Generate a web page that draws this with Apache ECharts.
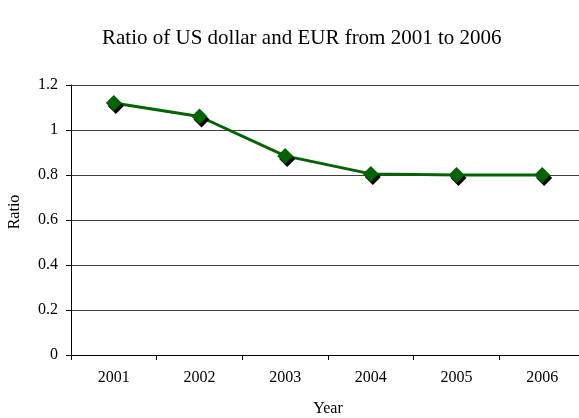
<!DOCTYPE html>
<html>
<head>
<meta charset="utf-8">
<script src="https://cdn.jsdelivr.net/npm/echarts@6/dist/echarts.min.js"></script>
<style>
  html, body { margin: 0; padding: 0; background: #fff; }
  #main { width: 579px; height: 418px; }
</style>
</head>
<body>
<div id="main"></div>
<script>
var years = ['2001', '2002', '2003', '2004', '2005', '2006'];
var ratio = [1.12, 1.06, 0.885, 0.805, 0.8, 0.8];
var yTicks = [0, 0.2, 0.4, 0.6, 0.8, 1, 1.2];

var font = '"Liberation Serif", "Times New Roman", serif';
var myChart = echarts.init(document.getElementById('main'));
var option = {
    animation: false,
    backgroundColor: '#fff',
    title: {
        text: 'Ratio of US dollar and EUR from 2001 to 2006',
        left: 97,
        top: 23,
        textStyle: { fontFamily: font, fontSize: 21, fontWeight: 'normal', color: '#000' }
    },
    grid: { left: 71, top: 85, width: 514, bottom: 63, outerBoundsMode: 'none', containLabel: false },
    xAxis: {
        type: 'category',
        data: years,
        boundaryGap: true,
        name: 'Year',
        nameLocation: 'middle',
        nameGap: 46,
        nameTextStyle: { fontFamily: font, fontSize: 16, color: '#000' },
        axisLine: { lineStyle: { color: '#000', width: 1 } },
        axisTick: { show: true, length: 5, inside: false, lineStyle: { color: '#000' } },
        axisLabel: { fontFamily: font, fontSize: 16, color: '#000', margin: 15 }
    },
    yAxis: {
        type: 'value',
        min: yTicks[0],
        max: yTicks[yTicks.length - 1],
        interval: 0.2,
        name: 'Ratio',
        nameLocation: 'middle',
        nameGap: 48,
        nameTextStyle: { fontFamily: font, fontSize: 16, color: '#000', padding: [0, 0, 0, 16] },
        axisLine: { show: true, lineStyle: { color: '#000', width: 1 } },
        axisTick: { show: true, length: 5, lineStyle: { color: '#000' } },
        axisLabel: { fontFamily: font, fontSize: 16, color: '#000', margin: 13 },
        splitLine: { lineStyle: { color: '#404040', width: 1 } }
    },
    series: [{
        type: 'line',
        data: ratio,
        symbol: 'diamond',
        symbolSize: 16,
        showAllSymbol: true,
        lineStyle: { color: '#006400', width: 3 },
        itemStyle: {
            color: '#006400',
            borderWidth: 0,
            shadowColor: '#000',
            shadowBlur: 0,
            shadowOffsetX: 2,
            shadowOffsetY: 3
        },
        z: 3
    }]
};
myChart.setOption(option);
</script>
</body>
</html>
